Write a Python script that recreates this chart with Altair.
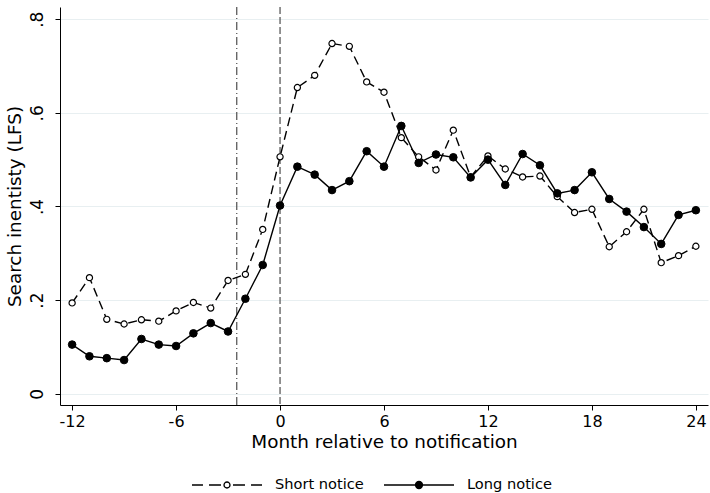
import altair as alt
import pandas as pd

months = list(range(-12, 25))
short_notice = [0.194, 0.248, 0.159, 0.149, 0.158, 0.155, 0.177, 0.195, 0.183, 0.242,
                0.255, 0.351, 0.506, 0.654, 0.680, 0.748, 0.742, 0.666, 0.644, 0.547,
                0.506, 0.478, 0.563, 0.463, 0.508, 0.480, 0.463, 0.465, 0.421, 0.387,
                0.394, 0.314, 0.346, 0.394, 0.280, 0.295, 0.315]
long_notice = [0.105, 0.080, 0.076, 0.072, 0.117, 0.105, 0.102, 0.129, 0.151, 0.133,
               0.203, 0.275, 0.402, 0.485, 0.468, 0.435, 0.454, 0.518, 0.485, 0.572,
               0.493, 0.511, 0.505, 0.462, 0.500, 0.446, 0.512, 0.488, 0.428, 0.435,
               0.473, 0.416, 0.389, 0.356, 0.320, 0.382, 0.392]
series_names = ["Short notice", "Long notice"]
ref_lines = [-2.5, 0]
ref_styles = ["dashdot", "dash"]
x_ticks = [-12, -6, 0, 6, 12, 18, 24]
y_ticks = [0, 0.2, 0.4, 0.6, 0.8]

df = pd.DataFrame({
    "month": months * 2,
    "value": short_notice + long_notice,
    "series": [series_names[0]] * len(months) + [series_names[1]] * len(months),
})
ref_df = pd.DataFrame({"x": ref_lines, "style": ref_styles})

FONT = "DejaVu Sans"
W, H = 648, 398

xs = alt.Scale(domain=[-12.7, 24.7], nice=False, zero=False)
ys = alt.Scale(domain=[-0.024, 0.826], nice=False, zero=False)

x_enc = alt.X("month:Q", scale=xs, title="Month relative to notification",
              axis=alt.Axis(values=x_ticks, grid=False, tickSize=5, labelPadding=3,
                            labelExpr="'' + datum.value",
                            labelFontSize=16, titleFontSize=18.4, titlePadding=3,
                            labelFont=FONT, titleFont=FONT, titleFontWeight="normal",
                            domainColor="black", tickColor="black", labelColor="black",
                            titleColor="black", labelFlush=False))
y_enc = alt.Y("value:Q", scale=ys, title="Search inentisty (LFS)",
              axis=alt.Axis(values=y_ticks, grid=True, gridColor="#e8eff1", gridWidth=1.2,
                            tickSize=5, labelAngle=270, labelAlign="center",
                            labelBaseline="bottom", labelPadding=9,
                            labelExpr="datum.value == 0 ? '0' : '.' + round(datum.value*10)",
                            labelFontSize=17, titleFontSize=18.4, titlePadding=4,
                            labelFont=FONT, titleFont=FONT, titleFontWeight="normal",
                            domainColor="black", tickColor="black", labelColor="black",
                            titleColor="black"))

rules = alt.Chart(ref_df).mark_rule(color="#5c5c5c", strokeWidth=1.3).encode(
    x=alt.X("x:Q", scale=xs),
    strokeDash=alt.StrokeDash("style:N", scale=alt.Scale(domain=ref_styles, range=[[8, 3, 1, 3], [7, 3]]),
                              legend=None),
)

short_df = df[df.series == series_names[0]]
long_df = df[df.series == series_names[1]]

line_short = alt.Chart(short_df).mark_line(color="black", strokeWidth=1.4, strokeDash=[9, 5]).encode(x=x_enc, y=y_enc)
line_long = alt.Chart(long_df).mark_line(color="black", strokeWidth=1.4).encode(x=x_enc, y=y_enc)
pts_short = alt.Chart(short_df).mark_point(shape="circle", filled=True, fill="white", stroke="black",
                                           strokeWidth=1.2, size=38, opacity=1).encode(x=x_enc, y=y_enc)
pts_long = alt.Chart(long_df).mark_point(shape="circle", filled=True, fill="black", stroke="black",
                                         strokeWidth=1, size=58, opacity=1).encode(x=x_enc, y=y_enc)

path_short = ("M-1,0L-0.686,0M-0.514,0L-0.171,0M0.171,0L0.514,0M0.686,0L1,0"
              "M-0.086,0A0.086,0.086,0,1,0,0.086,0A0.086,0.086,0,1,0,-0.086,0Z")
path_long = ("M-1,0L1,0"
             "M-0.1,0A0.1,0.1,0,1,0,0.1,0A0.1,0.1,0,1,0,-0.1,0Z"
             "M-0.07,0A0.07,0.07,0,1,0,0.07,0A0.07,0.07,0,1,0,-0.07,0Z"
             "M-0.04,0A0.04,0.04,0,1,0,0.04,0A0.04,0.04,0,1,0,-0.04,0Z"
             "M-0.015,0A0.015,0.015,0,1,0,0.015,0A0.015,0.015,0,1,0,-0.015,0Z")

leg = alt.Legend(title=None, orient="none", legendX=131, legendY=470, direction="horizontal",
                 symbolSize=4900, symbolStrokeWidth=1.3, symbolStrokeColor="black",
                 symbolFillColor="transparent",
                 symbolOpacity=1, labelFont=FONT, labelFontSize=14.6, labelColor="black",
                 labelOffset=12, columnPadding=19, padding=0, clipHeight=16)

legend_layer = alt.Chart(df).transform_filter("false").mark_point(
    filled=False, color="black", stroke="black", strokeWidth=1.3, size=4900, opacity=1
).encode(
    x=x_enc, y=y_enc,
    shape=alt.Shape("series:N", scale=alt.Scale(domain=series_names, range=[path_short, path_long]), legend=leg),
)

chart = alt.layer(rules, line_short, line_long, pts_short, pts_long, legend_layer).properties(
    width=W, height=H,
    autosize=alt.AutoSizeParams(type="none"),
    padding={"left": 60, "top": 7, "right": 2, "bottom": 88},
    background="white",
).configure_view(stroke=None)

chart.save("out.html", embed_options={"renderer": "svg", "actions": False})
